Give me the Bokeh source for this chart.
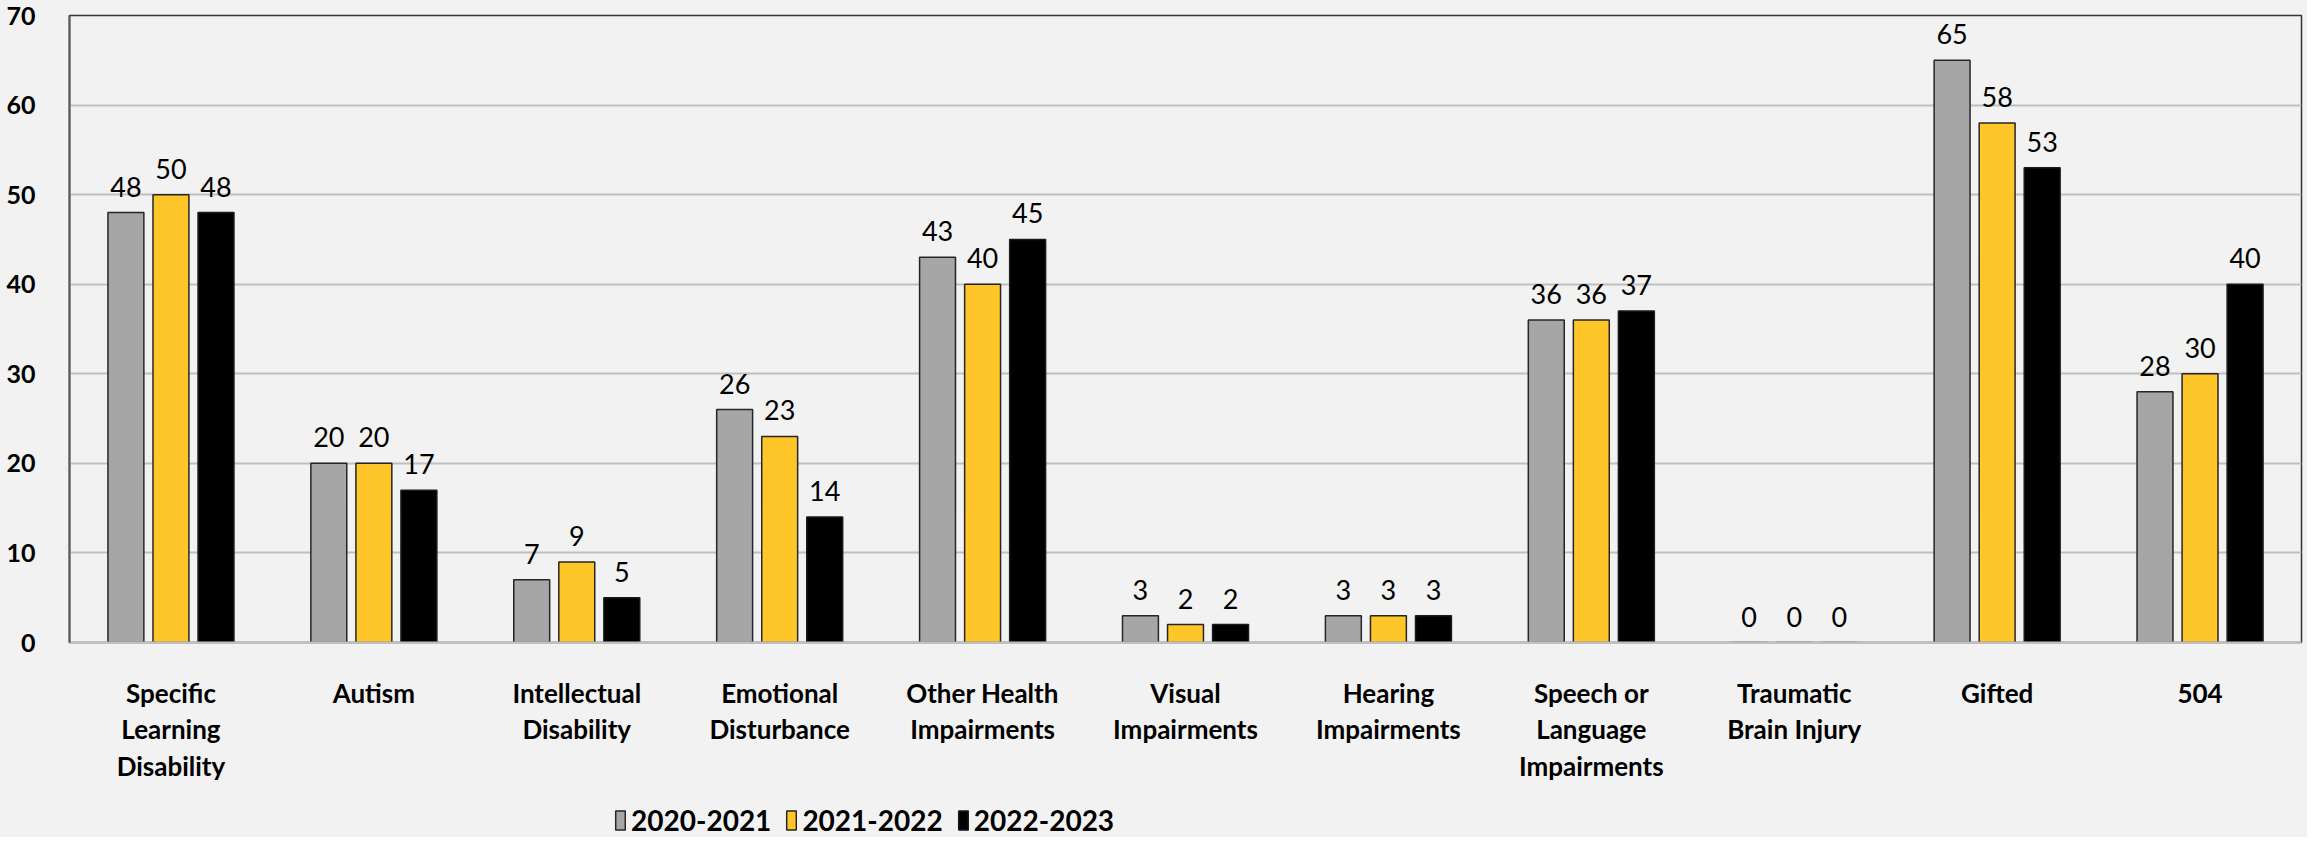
from bokeh.plotting import figure
from bokeh.layouts import column
from bokeh.models import ColumnDataSource, FactorRange, Range1d, FixedTicker, Legend, LegendItem, LabelSet
from bokeh.core.properties import value
from bokeh.transform import dodge
from bokeh.embed import file_html
from bokeh.resources import INLINE

categories = ["Specific\nLearning\nDisability", "Autism", "Intellectual\nDisability",
              "Emotional\nDisturbance", "Other Health\nImpairments", "Visual\nImpairments",
              "Hearing\nImpairments", "Speech or\nLanguage\nImpairments",
              "Traumatic\nBrain Injury", "Gifted", "504"]
series_names = ["2020-2021", "2021-2022", "2022-2023"]
y2020 = [48, 20, 7, 26, 43, 3, 3, 36, 0, 65, 28]
y2021 = [50, 20, 9, 23, 40, 2, 3, 36, 0, 58, 30]
y2022 = [48, 17, 5, 14, 45, 2, 3, 37, 0, 53, 40]
y_ticks = [0, 10, 20, 30, 40, 50, 60, 70]

colors = ["#A6A6A6", "#FFC629", "#000000"]
edges = ["#262626", "#262626", "#1a1a1a"]
offsets = [-0.222, 0.0, 0.222]
BG = "#F2F2F2"

src = ColumnDataSource(dict(cat=categories, a=y2020, b=y2021, c=y2022,
                            la=[str(v) for v in y2020], lb=[str(v) for v in y2021],
                            lc=[str(v) for v in y2022]))

p = figure(width=2307, height=792, x_range=FactorRange(*categories, range_padding=0, factor_padding=0),
           y_range=Range1d(0, 70), output_backend="svg", toolbar_location=None,
           min_border_left=69, min_border_right=6, min_border_top=15, min_border_bottom=150)
p.background_fill_color = BG
p.border_fill_color = BG
p.outline_line_color = "#333333"
p.outline_line_width = 1.5

for key, lab, col, edge, off in zip(["a", "b", "c"], ["la", "lb", "lc"], colors, edges, offsets):
    p.vbar(x=dodge("cat", off, range=p.x_range), top=key, width=0.177, source=src,
           fill_color=col, line_color=edge, line_width=1.5)
    ls = LabelSet(x=dodge("cat", off, range=p.x_range), y=key, text=lab, source=src,
                  text_align="center", text_baseline="alphabetic", y_offset=16,
                  text_font=value("Lato"), text_font_size=value("27px"), text_color="#000000")
    p.add_layout(ls)

p.xgrid.grid_line_color = None
p.ygrid.grid_line_color = "#BFBFBF"
p.ygrid.grid_line_width = 2
p.yaxis.ticker = FixedTicker(ticks=y_ticks)
p.yaxis.major_tick_line_color = None
p.yaxis.minor_tick_line_color = None
p.yaxis.axis_line_color = "#595959"
p.yaxis.axis_line_width = 2
p.yaxis.major_label_standoff = 28
p.yaxis.major_label_text_font = "Lato"
p.yaxis.major_label_text_font_style = "bold"
p.yaxis.major_label_text_font_size = "25px"
p.yaxis.major_label_text_color = "#000000"

p.xaxis.major_tick_line_color = None
p.xaxis.minor_tick_line_color = None
p.xaxis.axis_line_color = "#BFBFBF"
p.xaxis.axis_line_width = 2
p.xaxis.major_label_standoff = 28
p.xaxis.major_label_text_font = "Lato"
p.xaxis.major_label_text_font_style = "bold"
p.xaxis.major_label_text_font_size = "26px"
p.xaxis.major_label_text_color = "#000000"
p.xaxis.major_label_text_line_height = 1.15

# legend strip
lg = figure(width=2307, height=45, x_range=p.x_range, y_range=Range1d(0, 1),
            output_backend="svg", toolbar_location=None, min_border=0,
            x_axis_type=None, y_axis_type=None)
lg.background_fill_color = BG
lg.border_fill_color = BG
lg.outline_line_color = None
lg.grid.grid_line_color = None
leg_renderers = []
for key, col, edge, off in zip(["a", "b", "c"], colors, edges, offsets):
    leg_renderers.append(lg.vbar(x=dodge("cat", off, range=p.x_range), top=key, width=0.177, source=src,
                                 fill_color=col, line_color=edge, line_width=1.5, visible=False))
legend = Legend(items=[LegendItem(label=n, renderers=[r]) for n, r in zip(series_names, leg_renderers)],
                orientation="horizontal", location=(545, 0),
                background_fill_alpha=0, border_line_color=None,
                glyph_width=12, glyph_height=24, label_standoff=5, spacing=14,
                padding=0, margin=0,
                label_text_font="Lato", label_text_font_style="bold",
                label_text_font_size="28px", label_text_color="#000000", label_height=24)
lg.add_layout(legend)

layout = column(p, lg, spacing=0)
layout.background = BG
open("out.html", "w").write(file_html(layout, INLINE))
